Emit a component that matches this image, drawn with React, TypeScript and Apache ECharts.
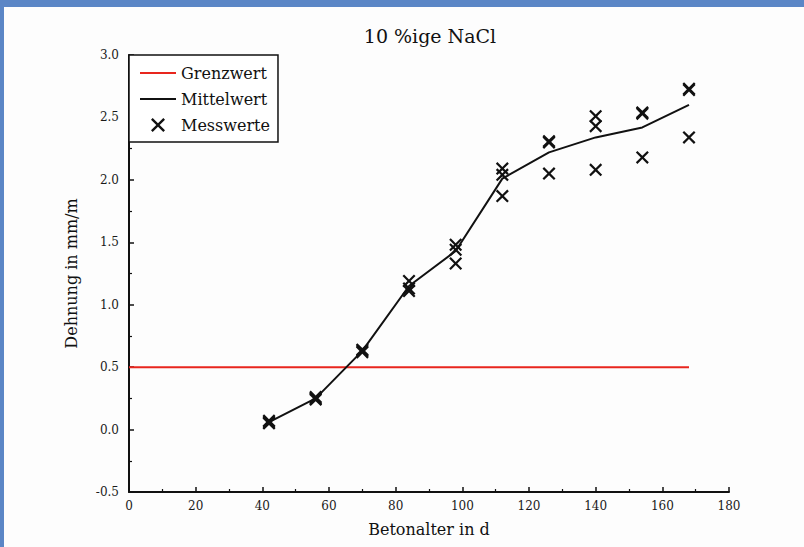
import React, { useEffect, useRef } from "react";
import * as echarts from "echarts";

const title = "10 %ige NaCl";
const xName = "Betonalter in d";
const yName = "Dehnung in mm/m";
const seriesNames = ["Grenzwert", "Mittelwert", "Messwerte"];

const ages = [42, 56, 70, 84, 98, 112, 126, 140, 154, 168];
const meanValues = [0.06, 0.25, 0.63, 1.15, 1.43, 2.01, 2.22, 2.34, 2.42, 2.6];
const measure1 = [0.06, 0.25, 0.63, 1.19, 1.48, 2.09, 2.31, 2.51, 2.54, 2.73];
const measure2 = [0.07, 0.26, 0.64, 1.13, 1.44, 2.04, 2.3, 2.43, 2.53, 2.72];
const measure3 = [0.05, 0.24, 0.62, 1.11, 1.33, 1.87, 2.05, 2.08, 2.18, 2.34];
const limitX = [0, 168];
const limitValue = 0.5;

const FONT = "'DejaVu Serif', 'Liberation Serif', serif";
const CROSS =
  "path://M0,12L12,0L50,38L88,0L100,12L62,50L100,88L88,100L50,62L12,100L0,88L38,50Z";

export default function App() {
  const ref = useRef<HTMLDivElement>(null);

  useEffect(() => {
    if (!ref.current) return;
    const chart = echarts.init(ref.current, null, { renderer: "svg" });
    const scatterData: number[][] = [];
    [measure1, measure2, measure3].forEach((m) =>
      m.forEach((v, i) => scatterData.push([ages[i], v]))
    );
    const axisCommon = {
      axisLine: { show: true, onZero: false, lineStyle: { color: "#111", width: 2 } },
      axisTick: { show: true, inside: true, length: 5, lineStyle: { color: "#111", width: 1.5 } },
      minorTick: { show: true, splitNumber: 2, length: 3, lineStyle: { color: "#111", width: 1.2 } },
      splitLine: { show: false },
      minorSplitLine: { show: false },
      axisLabel: { color: "#1a1a1a", fontSize: 12, fontFamily: FONT },
      nameTextStyle: { color: "#111", fontSize: 16, fontFamily: FONT },
    };
    const hiddenSymbol = {
      color: "rgba(0,0,0,0)",
      borderColor: "rgba(0,0,0,0)",
      borderWidth: 0,
      opacity: 0,
    };
    chart.setOption({
      animation: false,
      backgroundColor: "transparent",
      graphic: [
        {
          type: "text",
          x: 430,
          y: 36,
          style: {
            text: title,
            fill: "#111",
            font: `19px ${FONT}`,
            textAlign: "center",
            textVerticalAlign: "middle",
          },
        },
      ],
      grid: { left: 129, top: 55, width: 600, height: 437 },
      legend: {
        orient: "vertical",
        left: 129,
        top: 55,
        padding: [10, 8, 9, 10],
        itemGap: 10,
        itemWidth: 36,
        itemHeight: 14,
        backgroundColor: "#fff",
        borderColor: "#111",
        borderWidth: 1.5,
        borderRadius: 0,
        textStyle: { color: "#111", fontSize: 16, fontFamily: FONT },
        data: [
          { name: seriesNames[0], itemStyle: hiddenSymbol },
          { name: seriesNames[1], itemStyle: hiddenSymbol },
          { name: seriesNames[2] },
        ],
      },
      xAxis: {
        ...axisCommon,
        type: "value",
        min: 0,
        max: 180,
        interval: 20,
        name: xName,
        nameLocation: "middle",
        nameGap: 29,
        axisLabel: { ...axisCommon.axisLabel, margin: 8 },
      },
      yAxis: {
        ...axisCommon,
        type: "value",
        min: -0.5,
        max: 3.0,
        interval: 0.5,
        name: yName,
        nameLocation: "middle",
        nameGap: 50,
        axisLabel: {
          ...axisCommon.axisLabel,
          margin: 10,
          formatter: (v: number) => v.toFixed(1),
        },
      },
      series: [
        {
          name: seriesNames[0],
          type: "line",
          symbol: "none",
          data: limitX.map((x) => [x, limitValue]),
          lineStyle: { color: "#e8261e", width: 2 },
          itemStyle: { color: "#e8261e" },
          z: 2,
        },
        {
          name: seriesNames[1],
          type: "line",
          symbol: "none",
          data: ages.map((a, i) => [a, meanValues[i]]),
          lineStyle: { color: "#111", width: 2 },
          itemStyle: { color: "#111" },
          z: 3,
        },
        {
          name: seriesNames[2],
          type: "scatter",
          symbol: CROSS,
          symbolSize: 13,
          data: scatterData,
          itemStyle: { color: "#111", opacity: 1 },
          z: 4,
        },
      ],
    });
    return () => chart.dispose();
  }, []);

  return (
    <div
      style={{
        position: "fixed",
        left: 0,
        top: 0,
        width: 804,
        height: 547,
        background: "#fdfdfd",
        overflow: "hidden",
      }}
    >
      <div style={{ position: "absolute", left: 0, top: 0, width: 804, height: 7, background: "#5b86c6" }} />
      <div style={{ position: "absolute", left: 0, top: 0, width: 4, height: 547, background: "#5b86c6" }} />
      <div ref={ref} style={{ position: "absolute", left: 0, top: 0, width: 804, height: 547 }} />
    </div>
  );
}
